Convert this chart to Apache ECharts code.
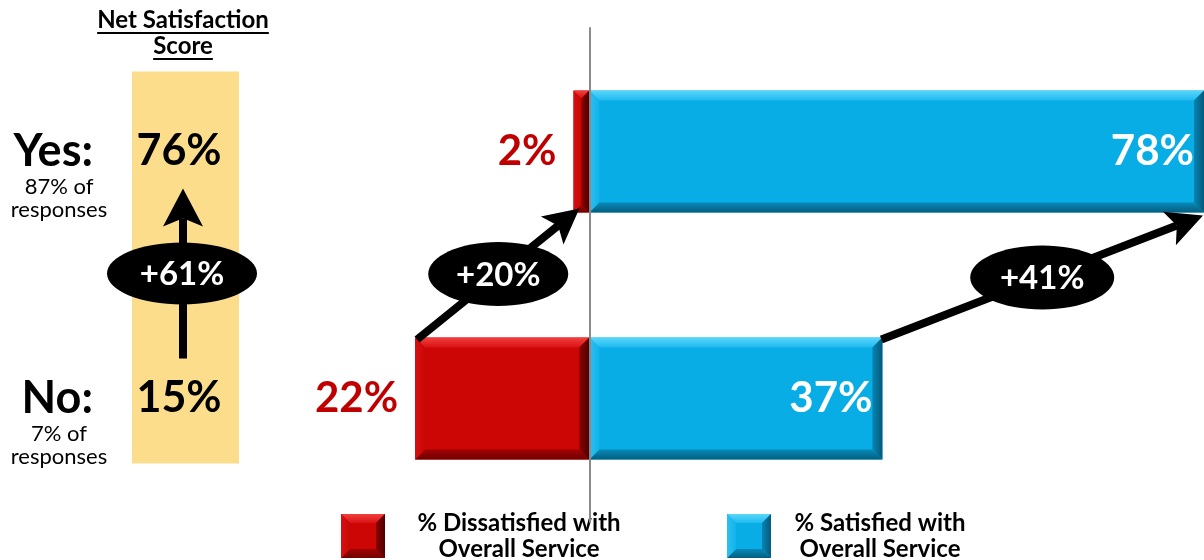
<!DOCTYPE html>
<html>
<head>
<meta charset="utf-8">
<script src="https://cdn.jsdelivr.net/npm/echarts@6/dist/echarts.min.js"></script>
<style>
  html, body { margin: 0; padding: 0; background: #ffffff; }
  #chart { width: 1204px; height: 560px; }
</style>
</head>
<body>
<div id="chart"></div>
<script>
// ---- data ----
const categories = ['Yes', 'No'];
const categoryLabels = ['Yes:', 'No:'];
const responseShare = [87, 7];          // % of responses in each group
const netScore = [76, 15];              // net satisfaction score, %
const dissatisfied = [2, 22];           // % dissatisfied with overall service
const satisfied = [78, 37];             // % satisfied with overall service
const netChange = 61;                   // change in net score, points
const dissatisfiedChange = 20;          // drop in dissatisfied, points
const satisfiedChange = 41;             // rise in satisfied, points
const seriesNames = ['% Dissatisfied with\nOverall Service', '% Satisfied with\nOverall Service'];

// ---- look ----
const FONT = 'Lato, "Open Sans", sans-serif';
const BAR_WIDTH = 122;
const BEVEL = 10;
const RED_TEXT = '#C00000';

// legend layout
const LEGEND_LEFT = 341, LEGEND_TOP = 510, KEY = 44, KEY_TEXT_GAP = 5, LEGEND_GAP = 79;
const LEGEND_TEXT_W = [258, 208];
const LEGEND_LINE_H = 26;

// bevel palettes: face, top, left, bottom, right
const RED = { face: '#cc0505', top: ['#f24040', '#d81212'], left: ['#d51010', '#c90606'],
  bottom: ['#a00404', '#720000'], right: ['#8a0000', '#4e0000'] };
const BLUE = { face: '#08ade6', top: ['#5ad6fb', '#1fbaf0'], left: ['#2cc0f2', '#12b3ea'],
  bottom: ['#0789b8', '#055e80'], right: ['#0785b3', '#05597a'] };

function grad(x0, y0, x1, y1, c) {
  return new echarts.graphic.LinearGradient(x0, y0, x1, y1, [{ offset: 0, color: c[0] }, { offset: 1, color: c[1] }]);
}

// bevelled block between two x pixels, vertically centred on cy
function bevelBlock(xa, xb, cy, h, pal, z, bevel) {
  const x0 = Math.min(xa, xb), x1 = Math.max(xa, xb);
  const y0 = cy - h / 2, y1 = cy + h / 2;
  const b = Math.min(bevel || BEVEL, (x1 - x0) / 2, h / 2);
  return [
    { type: 'rect', z2: z, shape: { x: x0, y: y0, width: x1 - x0, height: h }, style: { fill: pal.face } },
    { type: 'polygon', z2: z + 1, shape: { points: [[x0, y0], [x1, y0], [x1 - b, y0 + b], [x0 + b, y0 + b]] },
      style: { fill: grad(0, 0, 0, 1, pal.top) } },
    { type: 'polygon', z2: z + 1, shape: { points: [[x0, y1], [x1, y1], [x1 - b, y1 - b], [x0 + b, y1 - b]] },
      style: { fill: grad(0, 0, 0, 1, pal.bottom) } },
    { type: 'polygon', z2: z + 1, shape: { points: [[x0, y0], [x0 + b, y0 + b], [x0 + b, y1 - b], [x0, y1]] },
      style: { fill: grad(0, 0, 1, 0, pal.left) } },
    { type: 'polygon', z2: z + 1, shape: { points: [[x1, y0], [x1 - b, y0 + b], [x1 - b, y1 - b], [x1, y1]] },
      style: { fill: grad(0, 0, 1, 0, pal.right) } }
  ];
}

function barRenderer(pal, outside) {
  return function (params, api) {
    const v = api.value(0), cat = api.value(1);
    const cs = params.coordSys;
    const p0 = api.coord([0, cat]);
    const p1 = api.coord([v, cat]);
    const end = Math.max(cs.x, Math.min(cs.x + cs.width, p1[0]));
    const children = bevelBlock(p0[0], end, p0[1], BAR_WIDTH, pal, 0);
    const labelText = Math.abs(v) + '%';
    children.push({ type: 'text', z2: 10, style: {
      text: labelText, x: outside ? end - 17 : end - 10, y: p0[1],
      fill: outside ? RED_TEXT : '#ffffff', font: 'bold 42px ' + FONT,
      align: 'right', verticalAlign: 'middle' } });
    return { type: 'group', children: children };
  };
}

const chart = echarts.init(document.getElementById('chart'), null, { renderer: 'canvas' });

const option = {
  animation: false,
  backgroundColor: '#ffffff',
  grid: { left: 0, right: 0, top: 28, bottom: 38, containLabel: false },
  xAxis: { type: 'value', min: -74.4, max: 77.6, show: false },
  yAxis: {
    type: 'category',
    data: categories,
    inverse: true,
    z: 5,
    axisLine: { show: true, onZero: true, lineStyle: { color: '#8a8a8a', width: 2 } },
    axisTick: { show: false },
    axisLabel: { show: false },
    splitLine: { show: false }
  },
  legend: {
    left: LEGEND_LEFT,
    top: LEGEND_TOP,
    padding: 0,
    icon: 'rect',
    itemWidth: KEY,
    itemHeight: KEY,
    itemGap: LEGEND_GAP,
    selectedMode: false,
    data: seriesNames,
    formatter: function (name) {
      const key = name === seriesNames[0] ? 'r' : 'b';
      return name.split('\n').map(function (line) { return '{' + key + '|' + line + '}'; }).join('\n');
    },
    textStyle: {
      color: '#000000',
      fontFamily: FONT,
      fontWeight: 'bold',
      fontSize: 24,
      lineHeight: LEGEND_LINE_H,
      rich: {
        r: { width: LEGEND_TEXT_W[0], align: 'center', fontFamily: FONT, fontWeight: 'bold', fontSize: 24, lineHeight: LEGEND_LINE_H, color: '#000' },
        b: { width: LEGEND_TEXT_W[1], align: 'center', fontFamily: FONT, fontWeight: 'bold', fontSize: 24, lineHeight: LEGEND_LINE_H, color: '#000' }
      }
    }
  },
  series: [
    {
      name: seriesNames[0],
      type: 'custom',
      coordinateSystem: 'cartesian2d',
      z: 2,
      itemStyle: { color: RED.face },
      encode: { x: 0, y: 1 },
      data: dissatisfied.map(function (v, i) { return [-v, i]; }),
      renderItem: barRenderer(RED, true)
    },
    {
      name: seriesNames[1],
      type: 'custom',
      coordinateSystem: 'cartesian2d',
      z: 2,
      itemStyle: { color: BLUE.face },
      encode: { x: 0, y: 1 },
      data: satisfied.map(function (v, i) { return [v, i]; }),
      renderItem: barRenderer(BLUE, false)
    }
  ]
};

chart.setOption(option);

// ---- annotations placed from the bar geometry ----
const px = function (x, cat) { return chart.convertToPixel({ gridIndex: 0 }, [x, cat]); };
const yesY = px(0, categories[0])[1];
const noY = px(0, categories[1])[1];
const half = BAR_WIDTH / 2;
const chartW = chart.getWidth();

const measure = (function () {
  const ctx = document.createElement('canvas').getContext('2d');
  return function (text, font) { ctx.font = font; return ctx.measureText(text).width; };
})();

function text(str, x, y, size, weight, fill, align) {
  return {
    type: 'text', z: 20,
    style: {
      text: str, x: x, y: y, fill: fill || '#000',
      font: (weight || 'normal') + ' ' + size + 'px ' + FONT,
      align: align || 'center', verticalAlign: 'middle'
    }
  };
}

function arrow(x1, y1, x2, y2, width, headLen, headHalf) {
  const dx = x2 - x1, dy = y2 - y1;
  const len = Math.sqrt(dx * dx + dy * dy);
  const ux = dx / len, uy = dy / len;
  const nx = -uy, ny = ux;
  const bx = x2 - ux * headLen, by = y2 - uy * headLen;
  const notch = headLen * 0.22;
  const sx = x2 - ux * (headLen - notch), sy = y2 - uy * (headLen - notch);
  return [
    { type: 'line', z: 15, shape: { x1: x1, y1: y1, x2: sx, y2: sy },
      style: { stroke: '#000', lineWidth: width, lineCap: 'butt' } },
    { type: 'polygon', z: 15, shape: { points: [
      [x2, y2], [bx + nx * headHalf, by + ny * headHalf], [sx, sy], [bx - nx * headHalf, by - ny * headHalf]
    ] }, style: { fill: '#000' } }
  ];
}

function badge(cx, cy, rx, ry, value) {
  return [
    { type: 'ellipse', z: 16, shape: { cx: cx, cy: cy, rx: rx, ry: ry }, style: { fill: '#000' } },
    text('+' + value + '%', cx, cy + 1, 33, 'bold', '#fff')
  ];
}

const elements = [];

// net satisfaction column
elements.push({ type: 'rect', z: 1, shape: { x: 132, y: yesY - 80, width: 107, height: (noY + 65) - (yesY - 80) },
  style: { fill: '#FCDD8C' } });
const titleFont = 'bold 24px ' + FONT;
[['Net Satisfaction', 20], ['Score', 46]].forEach(function (t) {
  elements.push(text(t[0], 183, t[1], 24, 'bold', '#000'));
  const w = measure(t[0], titleFont);
  elements.push({ type: 'line', z: 20, shape: { x1: 183 - w / 2, y1: t[1] + 13, x2: 183 + w / 2, y2: t[1] + 13 },
    style: { stroke: '#000', lineWidth: 2 } });
});

[yesY, noY].forEach(function (cy, i) {
  elements.push(text(categoryLabels[i], 93, cy, 45, 'bold', '#000', 'right'));
  elements.push(text(responseShare[i] + '% of', 59, cy + 35, 22, 'normal', '#000'));
  elements.push(text('responses', 59, cy + 58, 22, 'normal', '#000'));
  elements.push(text(netScore[i] + '%', 179, cy, 43, 'bold', '#000'));
});

// vertical arrow between the net scores
const vTop = yesY + 37, vBottom = noY - 40;
Array.prototype.push.apply(elements, arrow(183, vBottom, 183, vTop, 8, 38, 20));
Array.prototype.push.apply(elements, badge(182, (vTop + vBottom) / 2, 75, 31, netChange));

// dissatisfied: from the "No" bar's outer top corner to the "Yes" bar
const d0 = px(-dissatisfied[1], categories[1]);
const d1 = px(-dissatisfied[0] / 2, categories[0]);
const dStart = [d0[0] + 2, noY - half + 2];
const dEnd = [d1[0] - 2, yesY + half - 4];
Array.prototype.push.apply(elements, arrow(dStart[0], dStart[1], dEnd[0], dEnd[1], 8, 35, 18));
Array.prototype.push.apply(elements, badge((dStart[0] + dEnd[0]) / 2, (dStart[1] + dEnd[1]) / 2, 70, 32, dissatisfiedChange));

// satisfied: from the "No" bar's outer top corner to the "Yes" bar's end
const s0 = px(satisfied[1], categories[1]);
const s1 = px(satisfied[0], categories[0]);
const sStart = [s0[0] - 1, noY - half + 2];
const sEnd = [Math.min(s1[0], chartW - 1), yesY + half + 3];
Array.prototype.push.apply(elements, arrow(sStart[0], sStart[1], sEnd[0], sEnd[1], 8, 36, 18));
Array.prototype.push.apply(elements, badge((sStart[0] + sEnd[0]) / 2, (sStart[1] + sEnd[1]) / 2, 72, 32, satisfiedChange));

// bevelled legend keys drawn over the plain legend swatches
const legendBlockH = LEGEND_LINE_H * 2;
const keyCy = LEGEND_TOP + Math.max(legendBlockH, KEY) / 2;
let keyX = LEGEND_LEFT;
[RED, BLUE].forEach(function (pal, i) {
  bevelBlock(keyX, keyX + KEY, keyCy, KEY, pal, 0, 9).forEach(function (el) {
    el.z = 30; el.z2 = undefined; elements.push(el);
  });
  keyX += KEY + KEY_TEXT_GAP + LEGEND_TEXT_W[i] + LEGEND_GAP;
});

chart.setOption({ graphic: { elements: elements } });
</script>
</body>
</html>
